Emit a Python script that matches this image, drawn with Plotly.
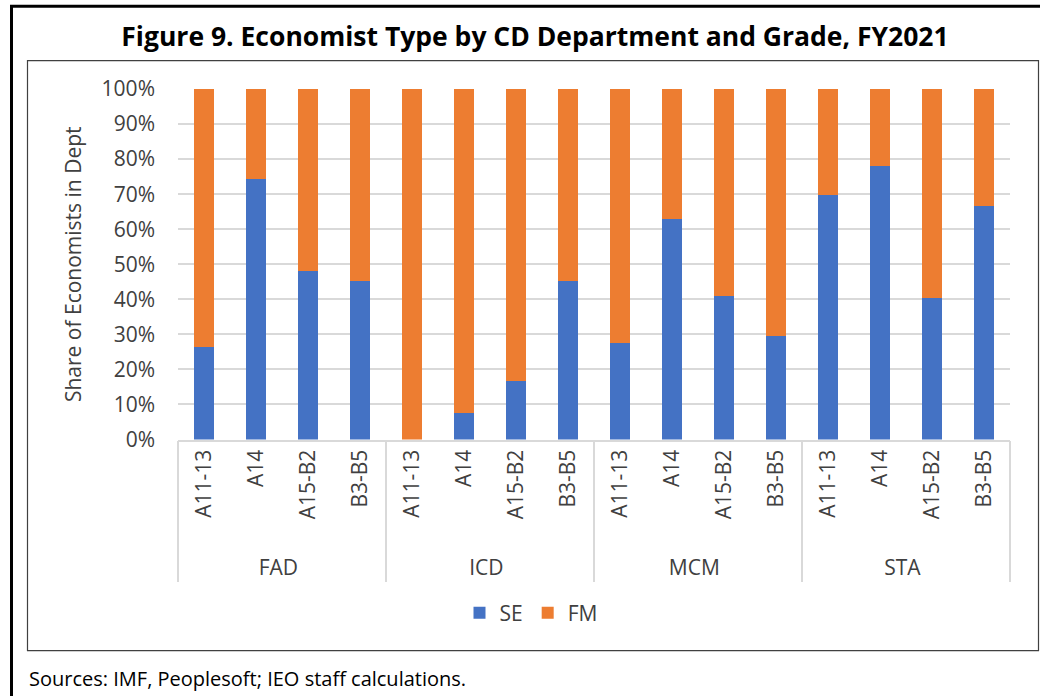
import plotly.graph_objects as go

departments = ["FAD", "ICD", "MCM", "STA"]
grades = ["A11-13", "A14", "A15-B2", "B3-B5"]
se_share = [0.263, 0.744, 0.481, 0.452,
            0.0, 0.076, 0.166, 0.452,
            0.275, 0.628, 0.409, 0.294,
            0.699, 0.781, 0.405, 0.665]
fm_share = [round(1 - v, 3) for v in se_share]

PAD = "\u00a0\u00a0\u00a0"  # pushes the department row a little lower
dept_x = [d for d in departments for _ in grades]
grade_x = [PAD + g for _ in departments for g in grades]

FONT = "Open Sans"
TXT = "#404040"
W, H = 1040, 696
L, R, T, B = 178, 30, 89, 255
PW, PH = W - L - R, H - T - B

def px(x):
    return (x - L) / PW

def py(y):
    return (H - B - y) / PH

fig = go.Figure()
fig.add_bar(x=[dept_x, grade_x], y=se_share, name="SE",
            marker=dict(color="#4472C4", line=dict(width=0)))
fig.add_bar(x=[dept_x, grade_x], y=fm_share, name="FM",
            marker=dict(color="#ED7D31", line=dict(width=0)))

fig.update_layout(
    width=W, height=H,
    barmode="stack", bargap=0.615,
    plot_bgcolor="white", paper_bgcolor="white",
    margin=dict(l=L, r=R, t=T, b=B),
    font=dict(family=FONT, size=21, color=TXT),
    title=dict(text="<b>Figure 9. Economist Type by CD Department and Grade, FY2021</b>",
               font=dict(family=FONT, size=26.5, color="black"),
               xref="container", x=535 / W, xanchor="center",
               yref="container", y=1 - 37 / H, yanchor="middle"),
    legend=dict(orientation="h", xref="container", x=531 / W, xanchor="center",
                yref="container", y=1 - 613 / H, yanchor="middle",
                font=dict(size=21, color=TXT), itemwidth=30,
                traceorder="normal"),
    showlegend=True,
)

fig.update_yaxes(range=[0, 1], dtick=0.1, tickformat=".0%",
                 showgrid=True, gridcolor="#d9d9d9", gridwidth=1.5,
                 zeroline=False, showline=False, ticks="",
                 ticklabelstandoff=22,
                 tickfont=dict(size=21, color=TXT),
                 title=dict(text="Share of Economists in Dept", standoff=14,
                            font=dict(size=21, color=TXT)))

fig.update_xaxes(type="multicategory", tickangle=-90,
                 showline=True, linecolor="#d9d9d9", linewidth=1.5,
                 showdividers=True, dividercolor="#d9d9d9", dividerwidth=1.5,
                 ticks="", showgrid=False,
                 tickfont=dict(size=21, color=TXT))

shapes = [
    # outer frame top & left
    dict(type="line", xref="paper", yref="paper",
         x0=px(10), x1=px(1045), y0=py(6), y1=py(6),
         line=dict(color="black", width=3)),
    dict(type="line", xref="paper", yref="paper",
         x0=px(11.5), x1=px(11.5), y0=py(5), y1=py(700),
         line=dict(color="black", width=3)),
    # inner chart box
    dict(type="rect", xref="paper", yref="paper",
         x0=px(27.5), x1=px(1038.5), y0=py(60.5), y1=py(653),
         line=dict(color="#404040", width=1.2)),
]
fig.update_layout(shapes=shapes)

fig.add_annotation(text="Sources: IMF, Peoplesoft; IEO staff calculations.",
                   xref="paper", yref="paper", x=px(27), y=py(681),
                   xanchor="left", yanchor="middle", showarrow=False,
                   font=dict(family=FONT, size=20, color="black"))

fig.write_html("out.html", config={"displayModeBar": False},
               post_script="document.body.style.margin='0';")
